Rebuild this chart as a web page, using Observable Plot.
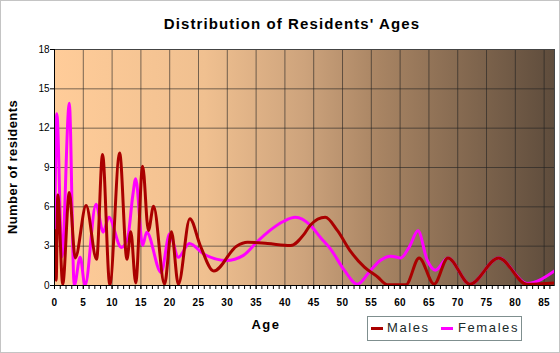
<!DOCTYPE html>
<html>
<head>
<meta charset="utf-8">
<script src="https://cdn.jsdelivr.net/npm/d3@7"></script>
<script src="https://cdn.jsdelivr.net/npm/@observablehq/plot@0.6"></script>
<style>
html, body { margin: 0; padding: 0; background: #fff; }
#wrap { position: relative; width: 560px; height: 353px; overflow: hidden; font-family: Arial, "Liberation Sans", sans-serif; color: #000; }
#wrap svg { position: absolute; left: 0; top: 0; }
#border { position: absolute; left: 0; top: 0; width: 558px; height: 351px; border: 1px solid #c4c4c4; pointer-events: none; }
.t { position: absolute; white-space: nowrap; transform: translate(-50%, -50%); }
#title { left: 292px; top: 23px; font-size: 15px; font-weight: bold; letter-spacing: 1.1px; }
#ylab { left: 12px; top: 167px; font-size: 13px; font-weight: bold; letter-spacing: 0.4px; transform: translate(-50%, -50%) rotate(-90deg); }
#xlab { left: 266px; top: 324px; font-size: 13px; font-weight: bold; letter-spacing: 1.5px; }
#legend { position: absolute; left: 367px; top: 316px; width: 153px; height: 23px; border: 1px solid #7f8f8f; }
.sw { position: absolute; top: 10px; height: 3px; }
.lt { position: absolute; top: 3px; font-size: 13px; letter-spacing: 1.6px; color: #1a2a2a; }
</style>
</head>
<body>
<div id="wrap">
  <div id="title" class="t">Distribution of Residents' Ages</div>
  <div id="ylab" class="t">Number of residents</div>
  <div id="xlab" class="t">Age</div>
  <div id="legend">
    <div class="sw" style="left:3px;width:12px;background:#aa0000"></div>
    <div class="lt" style="left:19px">Males</div>
    <div class="sw" style="left:73px;width:12px;background:#ff00ff"></div>
    <div class="lt" style="left:90px">Females</div>
  </div>
  <div id="border"></div>
</div>
<script>
// ---- data ----
const maleAges   = [0, 0.29, 0.57, 1.43, 2.57, 3.6, 5.49, 7.31, 8.34, 9.6, 11.31, 12.57, 13.24, 14.1, 15.3, 16.3, 17.2, 19.1, 20.3, 21.5, 23.5, 25.3, 27.65, 31.6, 33.5, 37, 41, 43.3, 44.4, 47, 49.1, 51.4, 53.8, 56.1, 57.8, 61, 63.3, 65.9, 68.3, 72.1, 77.1, 82, 87];
const maleCounts = [4.2, 0.4, 6.9, 0.1, 7.1, 2.1, 6.1, 2.0, 10.0, 0.05, 10.1, 2.0, 4.1, 0.2, 9.1, 4.2, 6.05, 0.1, 4.1, 0.1, 5.1, 3.05, 1.1, 3.0, 3.3, 3.2, 3.05, 3.9, 4.6, 5.2, 4.2, 2.6, 1.4, 0.65, 0.05, 0.05, 2.1, 0.1, 2.1, 0.1, 2.1, 0.1, 0.2];

const femaleAges   = [0, 0.4, 1.3, 2.57, 3.43, 4.46, 5.3, 7.2, 8.46, 9.43, 11.6, 12.7, 13.6, 14.1, 15.3, 16.0, 18.5, 20.0, 21.5, 23.4, 25.9, 29.8, 32.8, 35.1, 37.4, 39.8, 41.8, 44.4, 46.1, 47.9, 50.3, 52.6, 54.9, 56.6, 58.4, 60.1, 61.6, 63.1, 64.7, 66.1, 68.3, 72.1, 77.1, 82, 87];
const femaleCounts = [2.5, 13.1, 2.2, 13.9, 0.0, 2.16, 0.0, 6.2, 4.07, 5.2, 2.9, 3.6, 6.9, 8.15, 3.05, 4.07, 1.0, 3.95, 2.16, 3.2, 2.4, 1.9, 2.3, 3.3, 4.2, 4.9, 5.2, 4.6, 3.7, 2.8, 1.17, 0.1, 1.17, 1.93, 2.24, 2.1, 2.95, 4.17, 1.93, 1.17, 2.1, 0.1, 2.1, 0.15, 1.17];

const xMajorTicks = [0, 5, 10, 15, 20, 25, 30, 35, 40, 45, 50, 55, 60, 65, 70, 75, 80, 85];
const xMinorTicks = d3.range(0, 87, 1);
const yTicks = [0, 3, 6, 9, 12, 15, 18];

const males = maleAges.map((a, i) => ({age: a, n: maleCounts[i]}));
const females = femaleAges.map((a, i) => ({age: a, n: femaleCounts[i]}));

const chart = Plot.plot({
  width: 560,
  height: 353,
  marginLeft: 54,
  marginRight: 6,
  marginTop: 49,
  marginBottom: 68,
  x: {domain: [0, 86.8]},
  y: {domain: [0, 18]},
  style: {background: "transparent", fontFamily: "Arial, 'Liberation Sans', sans-serif", fontSize: "10px", color: "#000"},
  marks: [
    Plot.frame({fill: "url(#bgGrad)", stroke: "none"}),
    Plot.gridX(xMajorTicks, {stroke: "#222", strokeOpacity: 0.6}),
    Plot.gridY(yTicks, {stroke: "#222", strokeOpacity: 0.6}),
    Plot.line(females, {x: "age", y: "n", curve: "monotone-x", stroke: "#ff00ff", strokeWidth: 3, clip: true}),
    Plot.line(males, {x: "age", y: "n", curve: "monotone-x", stroke: "#aa0000", strokeWidth: 3, clip: true}),
    Plot.frame({stroke: "#444"}),
    Plot.ruleX([0], {stroke: "#000"}),
    Plot.ruleY([0], {stroke: "#000"}),
    Plot.axisX(xMinorTicks, {tickSize: 4, tickFormat: () => "", label: null}),
    Plot.axisX(xMajorTicks, {tickSize: 4, tickPadding: 9, label: null, fontWeight: "bold"}),
    Plot.axisY(yTicks, {tickSize: 4, tickPadding: 1, label: null})
  ]
});

const defs = d3.select(chart).insert("defs", ":first-child");
const grad = defs.append("linearGradient").attr("id", "bgGrad")
  .attr("x1", 0).attr("x2", 1).attr("y1", 0).attr("y2", 0);
[[0, "#ffcc99"], [0.3, "#f0c090"], [0.5, "#cda37c"], [0.65, "#a88463"], [1, "#5e4c3c"]]
  .forEach(([o, c]) => grad.append("stop").attr("offset", o).attr("stop-color", c));

d3.select(chart).selectAll('g[aria-label="x-axis tick label"] text')
  .style("font-weight", "bold").style("letter-spacing", "0.4px");

document.getElementById("wrap").insertBefore(chart, document.getElementById("wrap").firstChild);
</script>
</body>
</html>
